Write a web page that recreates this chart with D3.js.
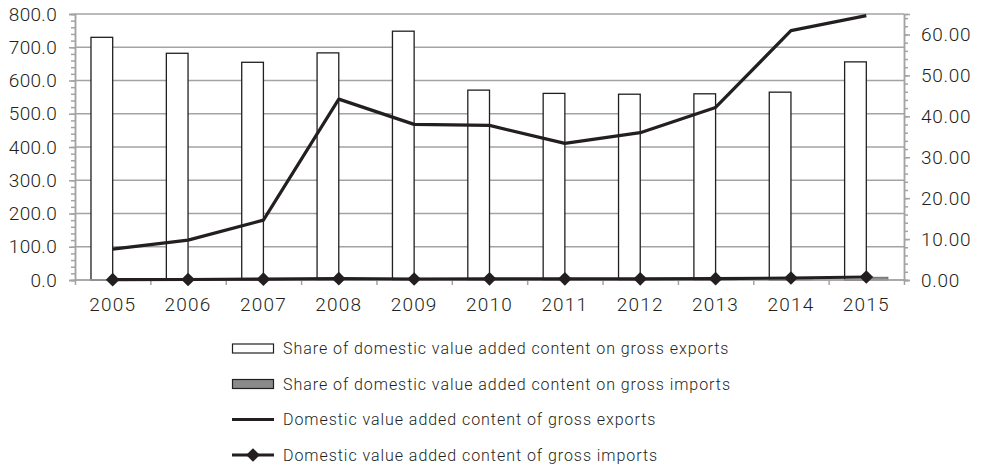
<!DOCTYPE html>
<html>
<head>
<meta charset="utf-8">
<script src="https://cdn.jsdelivr.net/npm/d3@7"></script>
<style>
  html, body { margin: 0; padding: 0; background: #ffffff; }
  svg { display: block; }
  text { font-family: Roboto, "Open Sans", sans-serif; font-weight: 300; fill: #231f20; }
</style>
</head>
<body>
<svg id="chart" width="981" height="469"></svg>
<script>
// Years on the category axis
const years = ["2005", "2006", "2007", "2008", "2009", "2010", "2011", "2012", "2013", "2014", "2015"];

// Shares (%) — bars, right axis
const shareExports = [59.3, 55.4, 53.2, 55.5, 60.8, 46.4, 45.6, 45.4, 45.5, 45.9, 53.3];
const shareImports = [0.2, 0.2, 0.2, 0.3, 0.3, 0.3, 0.3, 0.3, 0.3, 0.4, 0.7];

// Domestic value added content — lines, left axis
const dvaExports = [93, 120, 180, 544, 468, 465, 411, 443, 519, 750, 795];
const dvaImports = [1, 1.5, 2.5, 4, 3, 3.5, 3.5, 3.5, 4, 6, 9];

// Axis tick values
const leftTicks = [0, 100, 200, 300, 400, 500, 600, 700, 800];
const rightTicks = [0, 10, 20, 30, 40, 50, 60];

const legendLabels = [
  "Share of domestic value added content on gross exports",
  "Share of domestic value added content on gross imports",
  "Domestic value added content of gross exports",
  "Domestic value added content of gross imports"
];

const svg = d3.select("#chart");
const plot = { left: 75, right: 904, top: 14, bottom: 280 };
const ink = "#231f20";
const axisGray = "#a3a3a3";

const x = d3.scaleBand().domain(years).range([plot.left, plot.right]).paddingInner(0).paddingOuter(0);
const xSeries = d3.scaleBand().domain(["exp", "imp"]).range([0, x.bandwidth()]).paddingInner(0).paddingOuter(0.737);
const yLeft = d3.scaleLinear().domain([0, 800]).range([plot.bottom, plot.top]);
const yRight = d3.scaleLinear().domain([0, 65]).range([plot.bottom, plot.top]);

// Horizontal gridlines on the left scale
svg.append("g")
  .selectAll("line")
  .data(leftTicks)
  .join("line")
  .attr("x1", plot.left).attr("x2", plot.right)
  .attr("y1", d => yLeft(d)).attr("y2", d => yLeft(d))
  .attr("stroke", axisGray).attr("stroke-width", 1.5);

// Bars: share on gross exports (white) and on gross imports (grey)
const barG = svg.append("g");
barG.selectAll("rect.exp")
  .data(years.map((y, i) => ({ y, v: shareExports[i] })))
  .join("rect")
  .attr("class", "exp")
  .attr("x", d => x(d.y) + xSeries("exp"))
  .attr("width", xSeries.bandwidth())
  .attr("y", d => yRight(d.v))
  .attr("height", d => yRight(0) - yRight(d.v))
  .attr("fill", "#ffffff").attr("stroke", ink).attr("stroke-width", 1.3);

barG.selectAll("rect.imp")
  .data(years.map((y, i) => ({ y, v: shareImports[i] })))
  .join("rect")
  .attr("class", "imp")
  .attr("x", d => x(d.y) + xSeries("imp"))
  .attr("width", xSeries.bandwidth())
  .attr("y", d => yRight(d.v))
  .attr("height", d => yRight(0) - yRight(d.v))
  .attr("fill", "#8a8a8a").attr("stroke", "#555").attr("stroke-width", 0.6);

// Left axis: minor ticks, then labelled major ticks
const leftMinor = svg.append("g")
  .attr("transform", `translate(${plot.left},0)`)
  .call(d3.axisLeft(yLeft).tickValues(d3.range(0, 801, 20)).tickSize(4).tickFormat(""));
const leftAxis = svg.append("g")
  .attr("transform", `translate(${plot.left},0)`)
  .call(d3.axisLeft(yLeft).tickValues(leftTicks).tickSize(6).tickPadding(12).tickFormat(d3.format(".1f")));

// Right axis: minor ticks, then labelled major ticks
const rightMinor = svg.append("g")
  .attr("transform", `translate(${plot.right},0)`)
  .call(d3.axisRight(yRight).tickValues(d3.range(0, 65, 2)).tickSize(4).tickFormat(""));
const rightAxis = svg.append("g")
  .attr("transform", `translate(${plot.right},0)`)
  .call(d3.axisRight(yRight).tickValues(rightTicks).tickSize(6).tickPadding(11).tickFormat(d3.format(".2f")));

// Category boundary ticks and year labels
const xEdges = d3.scaleLinear().domain([0, years.length]).range([plot.left, plot.right]);
const xTickAxis = svg.append("g")
  .attr("transform", `translate(0,${plot.bottom})`)
  .call(d3.axisBottom(xEdges).tickValues(d3.range(0, years.length + 1)).tickSize(5).tickFormat(""));
const xAxis = svg.append("g")
  .attr("transform", `translate(0,${plot.bottom})`)
  .call(d3.axisBottom(x).tickSize(0).tickPadding(18));

[leftMinor, leftAxis, rightMinor, rightAxis, xTickAxis, xAxis].forEach(g => {
  g.select(".domain").attr("stroke", axisGray).attr("stroke-width", 1.5);
  g.selectAll(".tick line").attr("stroke", axisGray).attr("stroke-width", 1.5);
  g.selectAll(".tick text").attr("fill", ink).attr("font-family", null)
    .style("font-size", "19px").style("letter-spacing", "0.7px");
});
leftAxis.selectAll(".tick text").style("letter-spacing", "0.3px");
xAxis.selectAll(".tick text").style("letter-spacing", "1.2px");
xAxis.select(".domain").remove();
xTickAxis.select(".domain").attr("d", `M${plot.left},0H${plot.right}`);

// Lines on the left scale
const lineGen = d3.line()
  .x((d, i) => x(years[i]) + x.bandwidth() / 2)
  .y(d => yLeft(d));

svg.append("path")
  .datum(dvaExports)
  .attr("d", lineGen)
  .attr("fill", "none").attr("stroke", ink).attr("stroke-width", 3.2)
  .attr("stroke-linejoin", "round");

svg.append("path")
  .datum(dvaImports)
  .attr("d", lineGen)
  .attr("fill", "none").attr("stroke", ink).attr("stroke-width", 3.2)
  .attr("stroke-linejoin", "round");

const diamond = d3.symbol().type(d3.symbolDiamond2).size(120);
svg.append("g")
  .selectAll("path")
  .data(dvaImports)
  .join("path")
  .attr("transform", (d, i) => `translate(${x(years[i]) + x.bandwidth() / 2},${yLeft(d)})`)
  .attr("d", diamond)
  .attr("fill", ink);

// Legend
const legend = svg.append("g").attr("transform", "translate(232,0)");
const rowY = [348.5, 384, 419.5, 455];
const symW = 41;

legend.append("rect")
  .attr("x", 0.5).attr("y", rowY[0] - 4.5).attr("width", symW).attr("height", 9)
  .attr("fill", "#ffffff").attr("stroke", ink).attr("stroke-width", 1.2);
legend.append("rect")
  .attr("x", 0.5).attr("y", rowY[1] - 4.5).attr("width", symW).attr("height", 9)
  .attr("fill", "#8a8a8a").attr("stroke", ink).attr("stroke-width", 1.2);
legend.append("line")
  .attr("x1", 0).attr("x2", symW + 1).attr("y1", rowY[2]).attr("y2", rowY[2])
  .attr("stroke", ink).attr("stroke-width", 3.2);
legend.append("line")
  .attr("x1", 0).attr("x2", symW + 1).attr("y1", rowY[3]).attr("y2", rowY[3])
  .attr("stroke", ink).attr("stroke-width", 3.2);
legend.append("path")
  .attr("transform", `translate(${(symW + 1) / 2},${rowY[3]})`)
  .attr("d", diamond)
  .attr("fill", ink);

legend.selectAll("text")
  .data(legendLabels)
  .join("text")
  .attr("x", 51)
  .attr("y", (d, i) => rowY[i])
  .attr("dy", "0.35em")
  .style("font-size", "16px")
  .style("letter-spacing", "0.95px")
  .text(d => d);
</script>
</body>
</html>
